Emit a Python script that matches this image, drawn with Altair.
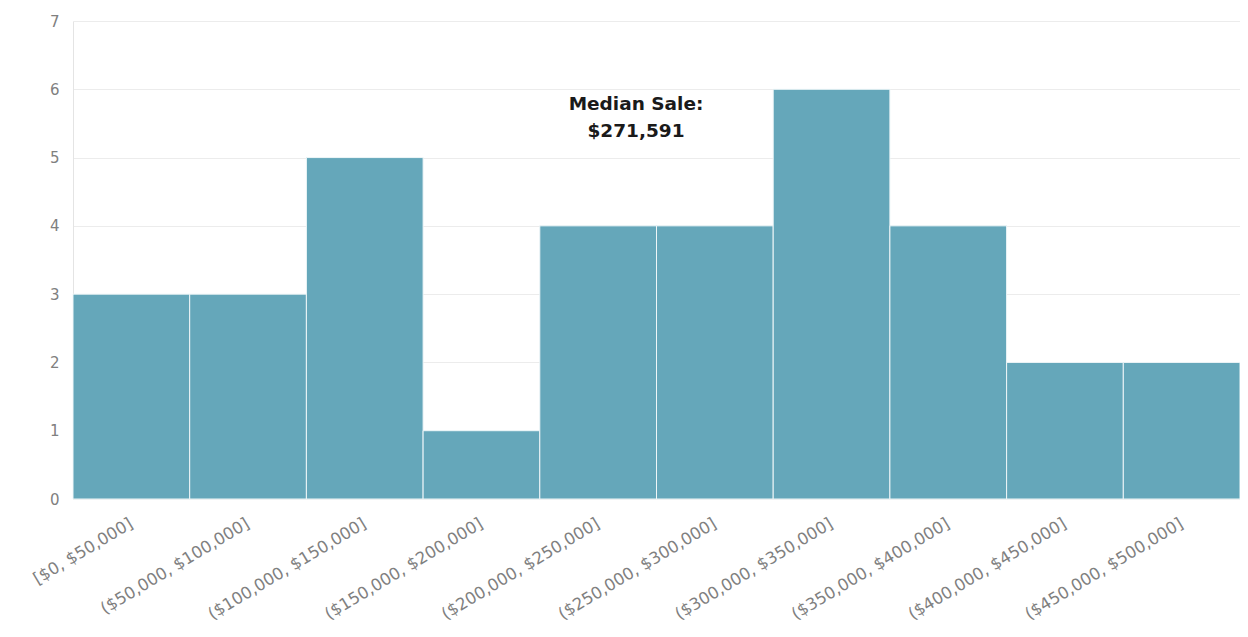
import altair as alt
import pandas as pd

bins = ["[$0, $50,000]", "($50,000, $100,000]", "($100,000, $150,000]",
        "($150,000, $200,000]", "($200,000, $250,000]", "($250,000, $300,000]",
        "($300,000, $350,000]", "($350,000, $400,000]", "($400,000, $450,000]",
        "($450,000, $500,000]"]
counts = [3, 3, 5, 1, 4, 4, 6, 4, 2, 2]
y_ticks = [0, 1, 2, 3, 4, 5, 6, 7]
note_lines = ["Median Sale:", "$271,591"]

df = pd.DataFrame({"bin": bins, "count": counts})

bars = alt.Chart(df).mark_bar(color="#65a7ba", stroke="#eef6f8", strokeWidth=1).encode(
    x=alt.X("bin:N", sort=bins, title=None,
            scale=alt.Scale(paddingInner=0, paddingOuter=0),
            axis=alt.Axis(labelAngle=-31, labelAlign="right", labelBaseline="middle",
                          ticks=False, domain=False, grid=False, labelPadding=23,
                          labelFontSize=16.5, labelColor="#808080",
                          labelFont="DejaVu Sans", labelLimit=400)),
    y=alt.Y("count:Q", title=None,
            scale=alt.Scale(domain=[0, 7], nice=False),
            axis=alt.Axis(values=y_ticks, format="d", ticks=False, domain=True,
                          domainColor="#e4e4e4", grid=True, gridColor="#ececec",
                          labelPadding=14, labelFontSize=15,
                          labelColor="#808080", labelFont="DejaVu Sans")),
)

note = alt.Chart(pd.DataFrame({"t": [note_lines]})).mark_text(
    font="DejaVu Sans", fontWeight="bold", fontSize=18.5, color="#1a1a1a",
    align="center", baseline="middle", lineHeight=27,
).encode(
    text="t",
    x=alt.value(636 - 73),
    y=alt.datum(5.79),
)

chart = (bars + note).properties(
    width=1167, height=478,
    autosize=alt.AutoSizeParams(type="none"),
    padding={"left": 65, "top": 13, "right": 0, "bottom": 130},
).configure_view(stroke=None)

chart.save("out.html", embed_options={"renderer": "svg", "actions": False})
